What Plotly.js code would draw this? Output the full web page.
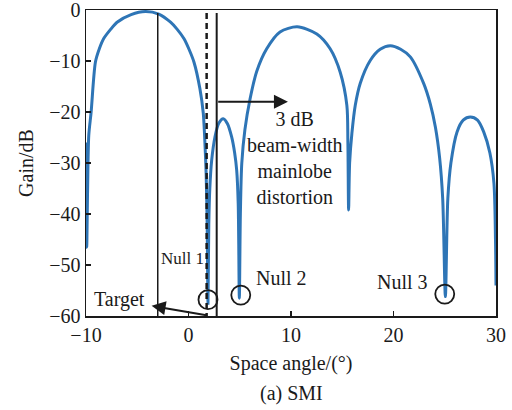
<!DOCTYPE html>
<html><head><meta charset="utf-8">
<script src="https://cdn.plot.ly/plotly-3.0.1.min.js"></script>
<style>body{margin:0;background:#fff}#chart{width:512px;height:410px}</style>
</head><body><div id="chart"></div>
<script>
// Beam pattern (SMI)
const angle = [-10, -9.93, -9.85, -9.73, -9.5, -9.08, -8.7, -8.27, -7.6, -6.97, -5.6, -4.2, -2.9, -1.75, -1.1, -0.45, 0.05, 0.53, 1.11, 1.44, 1.57, 1.72, 1.82, 1.9, 1.98, 2.08, 2.26, 2.58, 2.95, 3.39, 3.8, 4.21, 4.5, 4.7, 4.85, 4.96, 5.06, 5.2, 5.5, 6.0, 6.66, 7.63, 8.93, 10.6, 12.52, 13.82, 14.8, 15.45, 15.55, 15.62, 15.72, 15.94, 16.27, 16.75, 17.73, 18.7, 19.69, 20.7, 21.64, 22.94, 23.6, 24.09, 24.5, 24.8, 25.06, 25.3, 25.6, 26.2, 26.8, 27.5, 28.2, 28.8, 29.4, 29.8, 29.95, 30];
const gain  = [-26, -46.5, -36, -24.6, -20, -10.2, -7.6, -5.6, -3.8, -2.4, -0.9, -0.3, -0.8, -2.4, -3.8, -5.6, -7.7, -10.2, -15.4, -20.2, -24.6, -32, -42, -57.5, -42, -35, -29.5, -24.9, -22.2, -21.3, -22.3, -24.9, -28, -31.4, -38, -56.5, -40, -30, -23.5, -17.5, -12, -7.6, -4.3, -3.3, -4.7, -7.6, -12.2, -18.7, -26, -39.2, -30, -24.2, -18.7, -14.4, -9.9, -7.7, -7.0, -7.7, -9.2, -14.4, -18.5, -23, -29, -37, -56.2, -37, -30, -23.9, -21.6, -21, -21.6, -23.9, -28, -34, -45, -54];
const xTickVals = [-10, 0, 10, 20, 30];
const yTickVals = [-60, -50, -40, -30, -20, -10, 0];
const nullAngles = [1.9, 5.1, 25.0];
const nullGains = [-56.8, -55.9, -55.7];
const nullLabels = ['Null 1', 'Null 2', 'Null 3'];
const targetAngle = -3;
const dashedAngle = 1.77;
const solidAngle = 2.75;
const beamArrowEnd = 9.7;
const beamArrowGain = -18;

const serif = 'Liberation Serif, Times New Roman, serif';
const ink = '#1a1a1a';

const trace = {
  x: angle, y: gain, type: 'scatter', mode: 'lines',
  line: {color: '#2e75b6', width: 3, shape: 'spline', smoothing: 0.8},
  hoverinfo: 'skip'
};

const shapes = [
  {type: 'line', xref: 'x', yref: 'y', x0: targetAngle, x1: targetAngle, y0: -0.6, y1: -60, line: {color: ink, width: 1.5}},
  {type: 'line', xref: 'x', yref: 'y', x0: dashedAngle, x1: dashedAngle, y0: -0.6, y1: -60, line: {color: ink, width: 2.5, dash: '6px,4px'}},
  {type: 'line', xref: 'x', yref: 'y', x0: solidAngle, x1: solidAngle, y0: -0.6, y1: -60, line: {color: ink, width: 2}}
];
nullAngles.forEach((a, i) => {
  shapes.push({type: 'circle', xref: 'x', yref: 'y', xsizemode: 'pixel', ysizemode: 'pixel',
    xanchor: a, yanchor: nullGains[i], x0: -9.5, x1: 9.5, y0: -9.5, y1: 9.5,
    line: {color: ink, width: 1.8}});
});

const annotations = [
  {x: beamArrowEnd, y: beamArrowGain, ax: solidAngle, ay: beamArrowGain, axref: 'x', ayref: 'y', xref: 'x', yref: 'y',
   text: '', showarrow: true, arrowhead: 2, arrowsize: 1.4, arrowwidth: 2, arrowcolor: ink},
  {x: -3.6, y: -58, ax: 1.9, ay: -59.9, axref: 'x', ayref: 'y', xref: 'x', yref: 'y',
   text: '', showarrow: true, arrowhead: 2, arrowsize: 1.4, arrowwidth: 2, arrowcolor: ink},
  {x: 10.4, y: -29.0, xref: 'x', yref: 'y', text: '3 dB<br>beam-width<br>mainlobe<br>distortion', showarrow: false,
   font: {family: serif, size: 20, color: ink}, align: 'center'},
  {x: -0.63, y: -48.8, xref: 'x', yref: 'y', text: nullLabels[0], showarrow: false, font: {family: serif, size: 17, color: ink}},
  {x: 9.08, y: -52.5, xref: 'x', yref: 'y', text: nullLabels[1], showarrow: false, font: {family: serif, size: 20, color: ink}},
  {x: 20.86, y: -53.3, xref: 'x', yref: 'y', text: nullLabels[2], showarrow: false, font: {family: serif, size: 20, color: ink}},
  {x: -6.7, y: -56.85, xref: 'x', yref: 'y', text: 'Target', showarrow: false, font: {family: serif, size: 20, color: ink}},
  {x: 0.5, y: -(394 - 316) / 306.5, xref: 'paper', yref: 'paper', yanchor: 'middle', text: '(a) SMI', showarrow: false, font: {family: serif, size: 20, color: ink}}
];

const axisCommon = {
  showgrid: false, zeroline: false, showline: true, mirror: true,
  linecolor: ink, linewidth: 1.5, ticks: 'inside', ticklen: 5, tickwidth: 1.3, tickcolor: ink,
  tickfont: {family: serif, size: 20, color: ink}, ticklabeloverflow: 'allow'
};

const layout = {
  width: 512, height: 410,
  margin: {l: 86, r: 16, t: 9.5, b: 94},
  paper_bgcolor: '#fff', plot_bgcolor: '#fff',
  showlegend: false,
  xaxis: Object.assign({}, axisCommon, {range: [-10, 30], tickvals: xTickVals,
    title: {text: 'Space angle/(°)', font: {family: serif, size: 20, color: ink}, standoff: 11}}),
  yaxis: Object.assign({}, axisCommon, {range: [-60, 0], tickvals: yTickVals,
    title: {text: 'Gain/dB', font: {family: serif, size: 20, color: ink}, standoff: 10}}),
  shapes: shapes,
  annotations: annotations
};

Plotly.newPlot('chart', [trace], layout, {displayModeBar: false, staticPlot: true});
</script>
</body></html>
